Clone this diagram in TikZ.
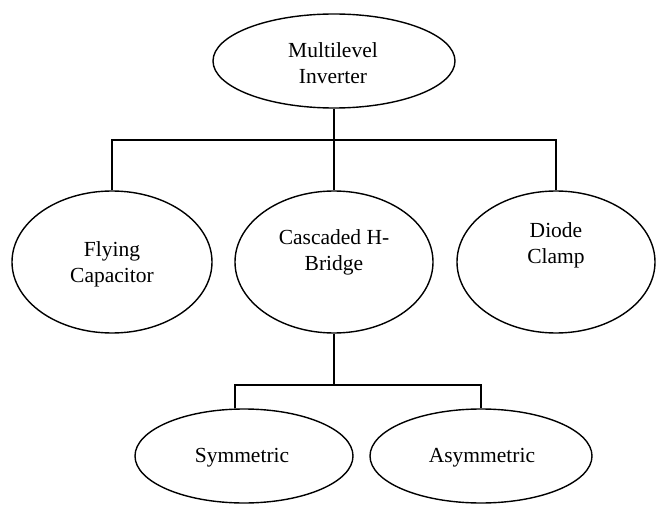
\documentclass[tikz,border=0pt]{standalone}
\usepackage{fontspec}
\setmainfont{Liberation Serif}
\usetikzlibrary{shapes.geometric}
\tikzset{
  oval/.style={draw=black, line width=1.4pt, ellipse, inner sep=0pt},
  lab/.style={font=\fontsize{21.5}{26}\selectfont, align=center, inner sep=0pt},
  wire/.style={draw=black, line width=1.4pt}
}
\begin{document}
\begin{tikzpicture}[x=1pt,y=-1pt]
\useasboundingbox (0,0) rectangle (659,505);
% ellipses
\node[oval, minimum width=242pt, minimum height=94pt] (mli) at (334,61) {};
\node[oval, minimum width=200pt, minimum height=142pt] (fc) at (112,262) {};
\node[oval, minimum width=198pt, minimum height=142pt] (chb) at (334,262) {};
\node[oval, minimum width=198pt, minimum height=142pt] (dc) at (556,262) {};
\node[oval, minimum width=218pt, minimum height=94pt] (sym) at (244,456) {};
\node[oval, minimum width=222pt, minimum height=94pt] (asym) at (481,456) {};
% texts
\node[lab] (tmli) at (333,63) {Multilevel\\Inverter};
\node[lab] (tfc) at (112,264) {Flying\\Capacitor};
\node[lab] (tchb) at (334,252) {Cascaded H-\\Bridge};
\node[lab] (tdc) at (556,245) {Diode\\Clamp};
\node[lab] (tsym) at (242,458) {Symmetric};
\node[lab] (tasym) at (482,458) {Asymmetric};
% bus coordinates
\coordinate (bus1) at (334,140);
\coordinate (bus2) at (334,385);
\coordinate (symx) at (235,385);
% connectors
\draw[wire] (mli.south) -- (bus1);
\draw[wire] (fc.north) |- (bus1) -| (dc.north);
\draw[wire] (bus1) -- (chb.north);
\draw[wire] (chb.south) -- (bus2);
\draw[wire] ([yshift=0.8pt]sym.north -| symx) -- (symx) -- (bus2) -| (asym.north);
\end{tikzpicture}
\end{document}
